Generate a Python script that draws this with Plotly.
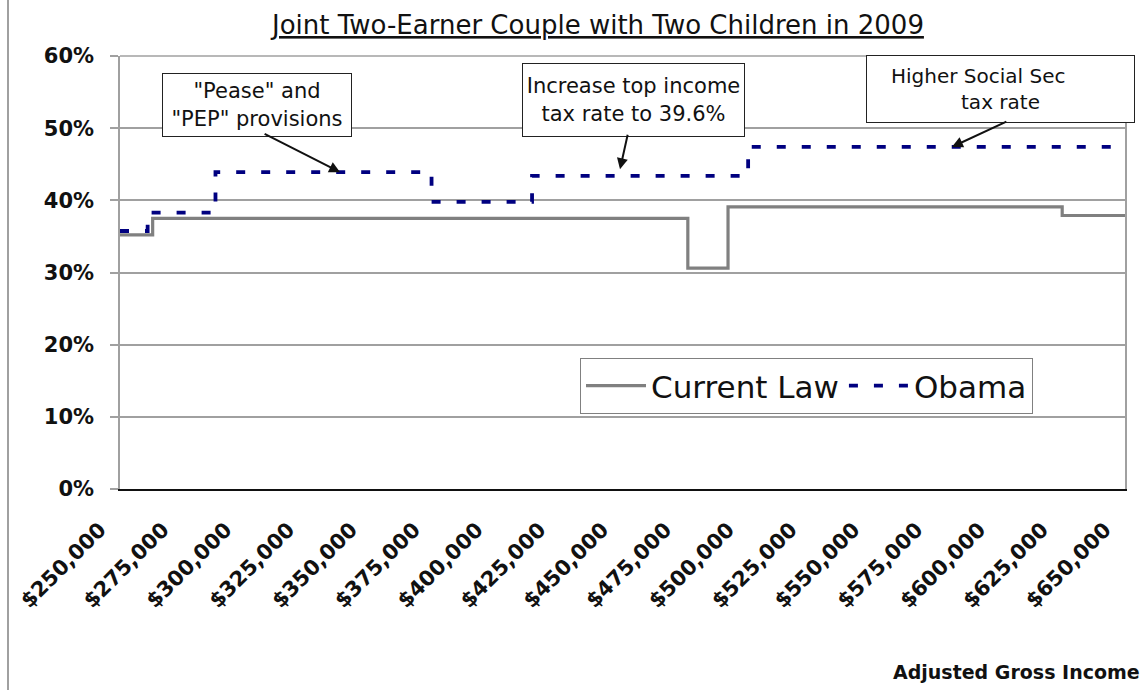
import plotly.graph_objects as go

# ---- data ----
current_x = [250000, 263000, 476000, 492000, 625000, 650000]
current_y = [35.2, 37.5, 30.6, 39.1, 37.9, 37.9]
obama_x = [250000, 261000, 288000, 374000, 414000, 500000, 650000]
obama_y = [35.75, 38.3, 43.9, 39.8, 43.4, 47.4, 47.4]
tick_vals = list(range(250000, 650001, 25000))
tick_text = ["$%s" % format(v, ",") for v in tick_vals]
y_ticks = [0, 10, 20, 30, 40, 50, 60]
y_tick_text = ["%d%%" % v for v in y_ticks]

# ---- layout geometry (pixels) ----
W, H = 1144, 690
L, R, T, B = 120, 1125, 56, 489


def px(x):
    return (x - L) / (R - L)


def py(y):
    return (B - y) / (B - T)


FONT = "DejaVu Sans"

fig = go.Figure()
fig.add_trace(go.Scatter(
    x=current_x, y=current_y, mode="lines", name="Current Law",
    line=dict(color="#808080", width=3.2, shape="hv"),
))
fig.add_trace(go.Scatter(
    x=obama_x, y=obama_y, mode="lines", name="Obama",
    line=dict(color="#000080", width=3.8, shape="hv", dash="9px,16px"),
))

annotations = []
# title
annotations.append(dict(
    text="<u>Joint Two-Earner Couple with Two Children in 2009</u>",
    xref="paper", yref="paper", x=px(597), y=py(25),
    xanchor="center", yanchor="middle", showarrow=False,
    font=dict(family=FONT, size=26, color="#111111"),
))
# x axis title
annotations.append(dict(
    text="<b>Adjusted Gross Income</b>",
    xref="paper", yref="paper", x=px(1142), y=py(672),
    xanchor="right", yanchor="middle", showarrow=False,
    font=dict(family=FONT, size=19, color="#111111"),
))
# text boxes
boxes = [
    ('"Pease" and<br>"PEP" provisions', 162, 352, 73, 137, 21),
    ("Increase top income<br>tax rate to 39.6%", 522, 745, 63, 137, 21),
    ("Higher Social Sec" + "\u00a0" * 7 + "<br>tax rate", 866, 1135, 55, 123, 20),
]
for txt, x0, x1, y0, y1, fs in boxes:
    annotations.append(dict(
        text=txt, xref="paper", yref="paper",
        x=px((x0 + x1) / 2), y=py((y0 + y1) / 2),
        xanchor="center", yanchor="middle", showarrow=False,
        width=x1 - x0 - 4, height=y1 - y0 - 4, borderpad=1,
        bgcolor="white", bordercolor="#222222", borderwidth=1,
        font=dict(family=FONT, size=fs, color="#111111"),
    ))
# arrows (head in data coords, tail as pixel offset)
arrows = [
    (337600, 43.9, -77, -39),
    (449000, 44.3, 8, -36),
    (581100, 47.4, 56, -26),
]
for ax_, ay_, dx, dy in arrows:
    annotations.append(dict(
        text="", x=ax_, y=ay_, xref="x", yref="y",
        ax=dx, ay=dy, showarrow=True, arrowhead=2, arrowsize=1.1,
        arrowwidth=2, arrowcolor="#111111",
    ))

shapes = [
    # outer frame left edge
    dict(type="line", xref="paper", yref="paper",
         x0=px(8), x1=px(8), y0=py(-5), y1=py(700),
         line=dict(color="#a0a0a0", width=2)),
    # top border of plot area
    dict(type="line", xref="paper", yref="paper",
         x0=0, x1=1, y0=1, y1=1, line=dict(color="#a0a0a0", width=1.5)),
]

fig.update_layout(
    width=W, height=H,
    margin=dict(l=L, r=W - R, t=T, b=H - B),
    paper_bgcolor="white", plot_bgcolor="white",
    showlegend=True,
    legend=dict(
        orientation="h", x=px(580), y=py(358), xanchor="left", yanchor="top",
        bgcolor="white", bordercolor="#808080", borderwidth=1,
        font=dict(family=FONT, size=31, color="#111111"),
        itemwidth=60,
    ),
    annotations=annotations,
    shapes=shapes,
    xaxis=dict(
        range=[250000, 650000], tickmode="array",
        tickvals=tick_vals, ticktext=tick_text, tickangle=-45,
        tickfont=dict(family=FONT, size=21, color="#111111", weight="bold"),
        showgrid=False, zeroline=False,
        showline=True, linecolor="#111111", linewidth=2,
        ticks="", ticklabelshift=-20, ticklabelstandoff=18,
    ),
    yaxis=dict(
        range=[0, 60], tickmode="array", tickvals=y_ticks, ticktext=y_tick_text,
        tickfont=dict(family=FONT, size=21, color="#111111", weight="bold"),
        showgrid=True, gridcolor="#a0a0a0", gridwidth=1.5,
        zeroline=False, showline=True, linecolor="#a0a0a0", linewidth=1.5,
        mirror=True, ticks="outside", ticklen=8, tickcolor="#a0a0a0",
        tickwidth=1.5, ticklabelstandoff=12,
    ),
)

fig.write_html("out.html")
